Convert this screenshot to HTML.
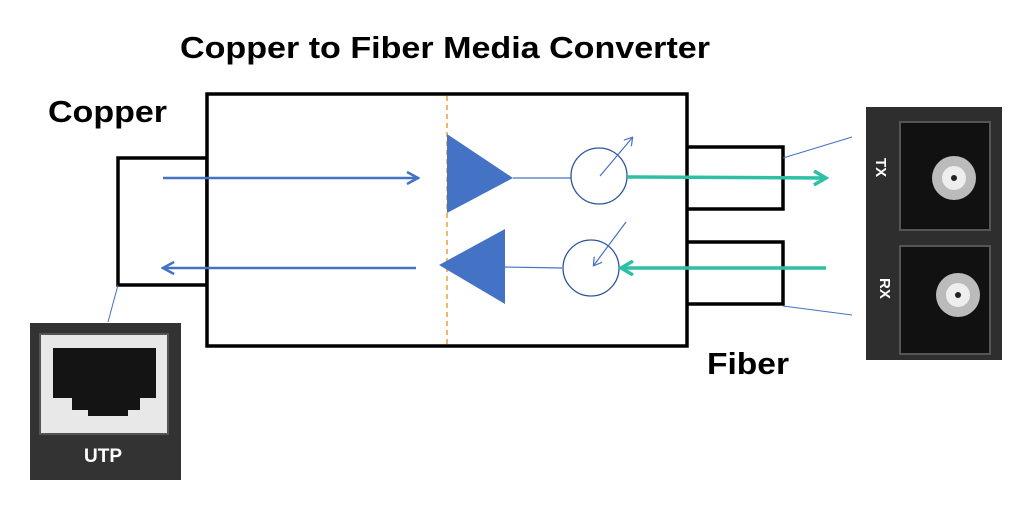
<!DOCTYPE html>
<html><head><style>body{margin:0;background:#fff}svg{display:block}</style></head><body>
<svg width="1024" height="510" viewBox="0 0 1024 510" xmlns="http://www.w3.org/2000/svg" font-family="Liberation Sans, sans-serif">
<defs>
<marker id="ab" markerWidth="14" markerHeight="14" refX="11" refY="7" orient="auto" markerUnits="userSpaceOnUse"><path d="M1,1 L12,7 L1,13" fill="none" stroke="#4472C4" stroke-width="2.5"/></marker>
<marker id="at" markerWidth="16" markerHeight="16" refX="13" refY="8" orient="auto" markerUnits="userSpaceOnUse"><path d="M1,1 L13,8 L1,15" fill="none" stroke="#2EBFA5" stroke-width="3.5"/></marker>
<marker id="as" markerWidth="10" markerHeight="10" refX="8" refY="5" orient="auto" markerUnits="userSpaceOnUse"><path d="M1,0 L9,5 L1,10" fill="none" stroke="#4472C4" stroke-width="1.2"/></marker>
</defs>
<text x="180" y="58" font-size="31" font-weight="bold" textLength="530" lengthAdjust="spacingAndGlyphs">Copper to Fiber Media Converter</text>
<text x="48" y="122" font-size="31" font-weight="bold" textLength="119" lengthAdjust="spacingAndGlyphs">Copper</text>
<text x="707" y="374" font-size="31" font-weight="bold" textLength="82" lengthAdjust="spacingAndGlyphs">Fiber</text>
<rect x="118" y="158" width="89" height="127" fill="none" stroke="#000" stroke-width="3.5"/>
<rect x="686" y="147" width="97" height="62" fill="none" stroke="#000" stroke-width="3.5"/>
<rect x="686" y="242" width="97" height="62" fill="none" stroke="#000" stroke-width="3.5"/>
<rect x="207" y="94" width="480" height="252" fill="#fff" stroke="#000" stroke-width="3.5"/>
<line x1="447" y1="96" x2="447" y2="344" stroke="#F0A030" stroke-width="1.5" stroke-dasharray="5,4"/>
<line x1="163" y1="178" x2="417" y2="178" stroke="#4472C4" stroke-width="2.5" marker-end="url(#ab)"/>
<line x1="416" y1="268" x2="164" y2="268" stroke="#4472C4" stroke-width="2.5" marker-end="url(#ab)"/>
<polygon points="447,134 513,178 447,213" fill="#4472C4"/>
<polygon points="439,265 505,229 505,304" fill="#4472C4"/>
<line x1="513" y1="178" x2="571" y2="178" stroke="#4472C4" stroke-width="1.2"/>
<line x1="505" y1="267" x2="562" y2="268" stroke="#4472C4" stroke-width="1.2"/>
<circle cx="599" cy="176" r="28" fill="#fff" stroke="#2F5597" stroke-width="1.3"/>
<circle cx="591" cy="268" r="28" fill="#fff" stroke="#2F5597" stroke-width="1.3"/>
<line x1="600" y1="176" x2="632" y2="138" stroke="#4472C4" stroke-width="1.2" marker-end="url(#as)"/>
<line x1="626" y1="222" x2="594" y2="265" stroke="#4472C4" stroke-width="1.2" marker-end="url(#as)"/>
<line x1="627" y1="177" x2="826" y2="178" stroke="#2EBFA5" stroke-width="3.5" marker-end="url(#at)"/>
<line x1="826" y1="268" x2="621" y2="268" stroke="#2EBFA5" stroke-width="3.5" marker-end="url(#at)"/>
<line x1="783" y1="158" x2="852" y2="137" stroke="#4472C4" stroke-width="1"/>
<line x1="783" y1="306" x2="852" y2="315" stroke="#4472C4" stroke-width="1"/>
<line x1="108" y1="322" x2="118" y2="285" stroke="#4472C4" stroke-width="1"/>
<rect x="30" y="323" width="151" height="157" fill="#333"/>
<rect x="40" y="334" width="128" height="100" fill="#e8e8e8" stroke="#555" stroke-width="2"/>
<path d="M53,348 H156 V398 H140 V410 H128 V416 H88 V410 H72 V398 H53 Z" fill="#141414"/>
<text x="103" y="462" font-size="19" font-weight="bold" fill="#fff" text-anchor="middle">UTP</text>
<rect x="866" y="107" width="136" height="253" fill="#2e2e2e"/>
<rect x="900" y="122" width="90" height="108" fill="#111" stroke="#555" stroke-width="2"/>
<rect x="900" y="246" width="90" height="108" fill="#111" stroke="#555" stroke-width="2"/>
<circle cx="954" cy="178" r="22" fill="#bbb"/><circle cx="954" cy="178" r="12" fill="#eee"/><circle cx="954" cy="178" r="3" fill="#222"/>
<circle cx="958" cy="295" r="22" fill="#bbb"/><circle cx="958" cy="295" r="12" fill="#eee"/><circle cx="958" cy="295" r="3" fill="#222"/>
<text x="0" y="0" font-size="15" font-weight="bold" fill="#fff" transform="translate(876,158) rotate(90)">TX</text>
<text x="0" y="0" font-size="15" font-weight="bold" fill="#fff" transform="translate(880,278) rotate(90)">RX</text>
</svg>
</body></html>
